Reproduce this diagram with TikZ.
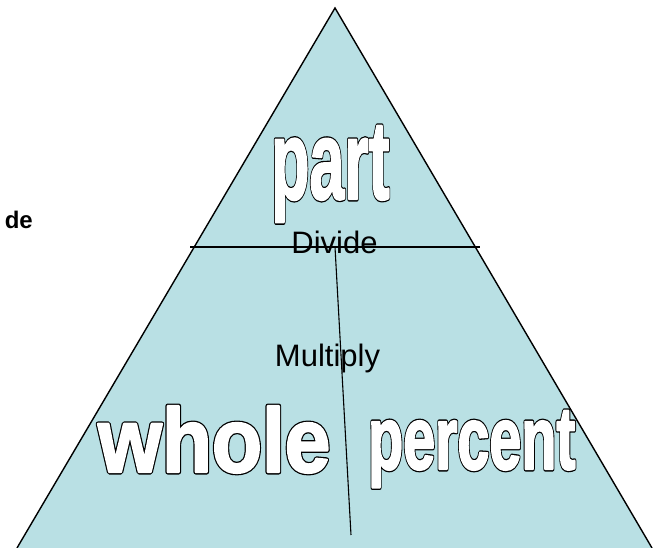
\documentclass[tikz,border=0pt]{standalone}
\usepackage{fontspec}
\setmainfont{Liberation Sans}
\newfontfamily\heavyfont{Liberation Sans Bold}
\definecolor{pyr}{RGB}{185,224,228}
\newcommand\outlinedtext[1]{\rlap{\color{black}\special{pdf:literal 0 G 5 w 1 j 2 Tr}#1}\color{white}\special{pdf:literal 1 G 2.4 w 1 j 2 Tr}#1\special{pdf:literal 0 Tr}}
\begin{document}
\begin{tikzpicture}[x=1pt,y=1pt,
  side/.style={line width=1.4pt,black},
  bigword/.style={inner sep=0pt,anchor=base west,transform shape},
  label/.style={inner sep=0pt,anchor=base,font=\fontsize{31}{36}\selectfont}]
\useasboundingbox (0,0) rectangle (662,548);
\coordinate (apex) at (335,540);
\coordinate (bl) at (17,0);
\coordinate (br) at (652,0);
\fill[pyr] (apex) -- (bl) -- (br) -- cycle;
\draw[side] (bl) -- (apex) -- (br);
\coordinate (hl) at (190,301);
\coordinate (hr) at (480,301);
\coordinate (vt) at (335,301);
\coordinate (vb) at (351,13);
\node[bigword,xscale=0.56] (part) at (271,349) {\heavyfont\fontsize{112}{120}\selectfont\outlinedtext{part}};
\node[bigword,xscale=0.9] (whole) at (98,76) {\heavyfont\fontsize{91}{100}\selectfont\outlinedtext{whole}};
\node[bigword,xscale=0.645] (percent) at (368,79) {\heavyfont\fontsize{89}{100}\selectfont\outlinedtext{percent}};
\node[label] (divide) at (334.5,294) {Divide};
\node[label] (multiply) at (327.5,181) {Multiply};
\node[inner sep=0pt,anchor=base east,font=\bfseries\fontsize{24}{28}\selectfont] (de) at (33,319) {de};
\draw[line width=1.1pt] (hl) -- (hr);
\draw[line width=1.1pt] (vt) -- (vb);
\end{tikzpicture}
\end{document}
